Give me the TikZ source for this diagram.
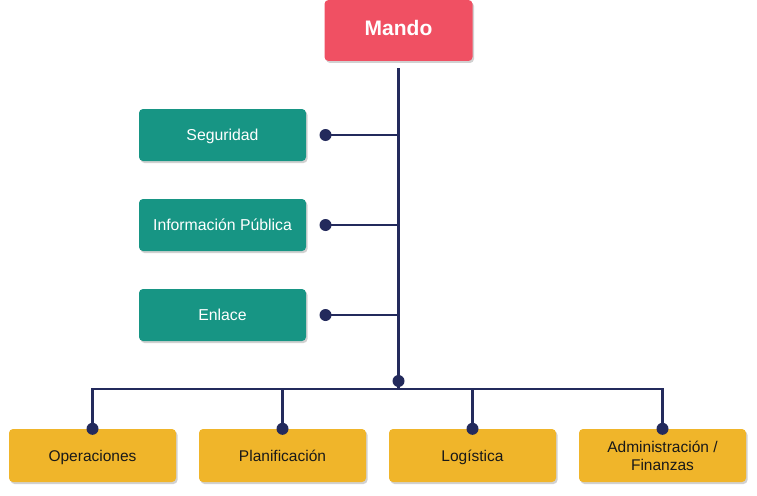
\documentclass[tikz,border=0pt]{standalone}
\usepackage{fontspec}
\setmainfont{Liberation Sans}
\usetikzlibrary{shadows}
\definecolor{mandored}{HTML}{F05063}
\definecolor{staffteal}{HTML}{179584}
\definecolor{sectionyellow}{HTML}{F0B52A}
\definecolor{linknavy}{HTML}{232A5C}
\begin{document}
\begin{tikzpicture}[x=1pt, y=1pt,
	box/.style={rounded corners=4pt, minimum width=167pt, minimum height=52pt, inner sep=2pt,
		drop shadow={shadow xshift=1.5pt, shadow yshift=-2pt, opacity=0.18, fill=black}},
	oneline/.style={text height=11pt, text depth=0pt},
	mandobox/.style={box, fill=mandored, minimum width=148pt, minimum height=61pt,
		text=white, font=\fontsize{21}{24}\selectfont\bfseries, text height=15pt, text depth=4pt},
	staffbox/.style={box, oneline, fill=staffteal, text=white, font=\fontsize{15.8}{18}\selectfont},
	sectionbox/.style={box, fill=sectionyellow, minimum height=53pt, text=black!90,
		font=\fontsize{15.5}{18}\selectfont, align=center},
	link/.style={draw=linknavy, line width=2.2pt},
	dot/.style={circle, fill=linknavy, inner sep=0pt, minimum size=12pt}]
	% canvas 757 x 495
	\useasboundingbox (0, 0) rectangle (757, -495);

	% command
	\node[mandobox] (mando) at (398.5, -30.5) {Mando};

	% staff
	\node[staffbox] (seg) at (222.5, -135) {Seguridad};
	\node[staffbox] (info) at (222.5, -225) {Información Pública};
	\node[staffbox] (enlace) at (222.5, -315) {Enlace};

	% sections
	\node[sectionbox, oneline] (ops) at (92.5, -455.5) {Operaciones};
	\node[sectionbox, oneline] (plan) at (282.5, -455.5) {Planificación};
	\node[sectionbox, oneline] (log) at (472.5, -455.5) {Logística};
	\node[sectionbox] (adm) at (662.5, -455.5) {Administración /\\Finanzas};

	% trunk
	\coordinate (hub) at (398.5, -381);
	\coordinate (bus) at (398.5, -389);
	\draw[link, shorten <=7pt] (mando) -- (bus);
	\node[dot] (hubdot) at (hub) {};

	% staff links
	\node[dot] (segdot) at (325.5, -135) {};
	\node[dot] (infodot) at (325.5, -225) {};
	\node[dot] (enlacedot) at (325.5, -315) {};
	\draw[link] (segdot.center) -- (segdot -| hub);
	\draw[link] (infodot.center) -- (infodot -| hub);
	\draw[link] (enlacedot.center) -- (enlacedot -| hub);

	% section links
	\draw[link] (ops.north) -- (ops.north |- bus) -- (adm.north |- bus) -- (adm.north);
	\draw[link] (plan.north) -- (plan.north |- bus);
	\draw[link] (log.north) -- (log.north |- bus);
	\node[dot] at (ops.north) {};
	\node[dot] at (plan.north) {};
	\node[dot] at (log.north) {};
	\node[dot] at (adm.north) {};
\end{tikzpicture}
\end{document}
